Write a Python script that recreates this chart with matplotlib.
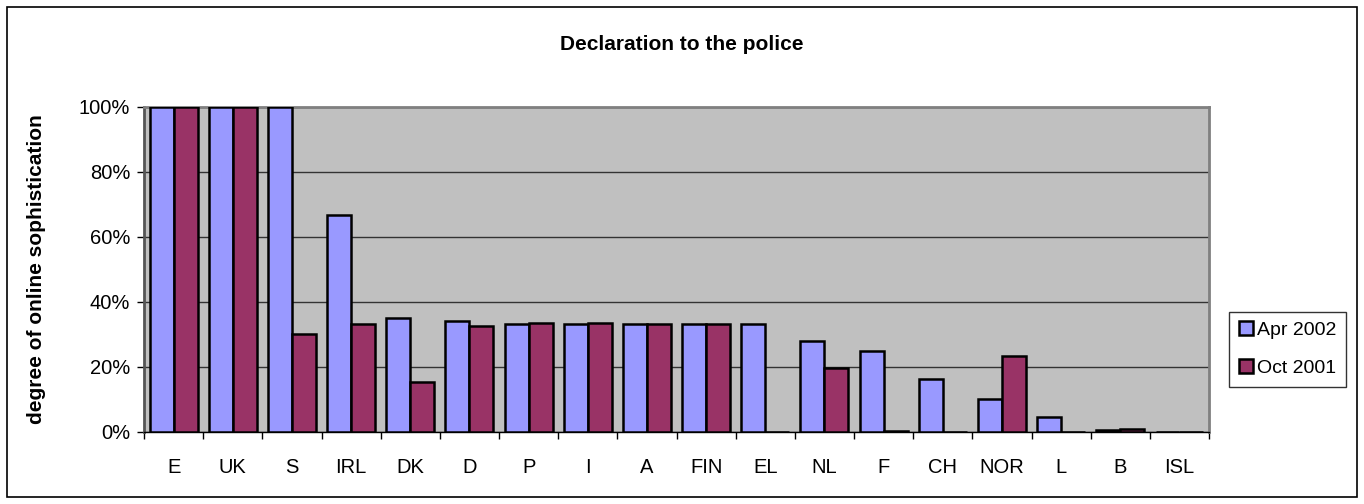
import numpy as np
import matplotlib.pyplot as plt
from matplotlib.patches import Rectangle
from matplotlib.ticker import FuncFormatter

plt.rcParams['font.family'] = ['Liberation Sans', 'DejaVu Sans']

countries = ['E', 'UK', 'S', 'IRL', 'DK', 'D', 'P', 'I', 'A', 'FIN',
             'EL', 'NL', 'F', 'CH', 'NOR', 'L', 'B', 'ISL']
apr_2002 = [100, 100, 100, 66.7, 35.1, 34.3, 33.2, 33.2, 33.3, 33.3,
            33.3, 27.9, 24.8, 16.3, 10.0, 4.7, 0.5, 0]
oct_2001 = [100, 100, 30.2, 33.3, 15.5, 32.5, 33.4, 33.4, 33.3, 33.3,
            0, 19.6, 0.3, 0, 23.4, 0, 0.8, 0]

fig = plt.figure(figsize=(13.64, 5.04), dpi=100)
ax = fig.add_axes([0.1056, 0.1429, 0.7808, 0.6448])

# outer chart border
fig.patches.append(Rectangle((7 / 1364, 7 / 504), 1350 / 1364, 490 / 504,
                             transform=fig.transFigure, fill=False,
                             edgecolor='black', linewidth=1.2))

x = np.arange(len(countries))
w = 0.405
ax.bar(x - w / 2, apr_2002, w, color='#9999FF', edgecolor='black',
       linewidth=1.8, label='Apr 2002', zorder=3)
ax.bar(x + w / 2, oct_2001, w, color='#993366', edgecolor='black',
       linewidth=1.8, label='Oct 2001', zorder=3)

ax.set_facecolor('#C0C0C0')
ax.set_xlim(-0.5, len(countries) - 0.5)
ax.set_ylim(0, 100)
ax.set_yticks(np.arange(0, 101, 20))
ax.yaxis.set_major_formatter(FuncFormatter(lambda v, p: '%d%%' % v))
ax.yaxis.grid(True, color='#333333', linewidth=1.0, zorder=1)
ax.set_axisbelow(True)

# categories sit between the tick marks
ax.set_xticks(np.arange(len(countries) + 1) - 0.5)
ax.set_xticklabels([])
ax.set_xticks(x, minor=True)
ax.set_xticklabels(countries, minor=True, fontsize=14.5)
ax.tick_params(axis='x', which='minor', length=0, pad=19)
ax.tick_params(axis='x', which='major', length=5, width=1, direction='out')
ax.tick_params(axis='y', length=5, width=1, direction='out', labelsize=14.5, pad=5)

for s in ['top', 'right']:
    ax.spines[s].set_color('#808080')
    ax.spines[s].set_linewidth(2)
ax.spines['left'].set_color('#555555')
ax.spines['left'].set_linewidth(2)
ax.spines['bottom'].set_color('black')
ax.spines['bottom'].set_linewidth(1)

ax.set_ylabel('degree of online sophistication', fontsize=15,
              fontweight='bold')
ax.yaxis.set_label_coords(-0.092, 0.5)
fig.text(0.5, 0.912, 'Declaration to the police', ha='center', va='center',
         fontsize=15, fontweight='bold')

leg = ax.legend(loc='upper left', bbox_to_anchor=(1.019, 0.37), fontsize=14,
                frameon=True, fancybox=False, edgecolor='black',
                handlelength=0.7, handleheight=0.7, handletextpad=0.2,
                labelspacing=1.05, borderpad=0.5, borderaxespad=0)
leg.get_frame().set_linewidth(1)

fig.savefig('out.png', dpi=100)
